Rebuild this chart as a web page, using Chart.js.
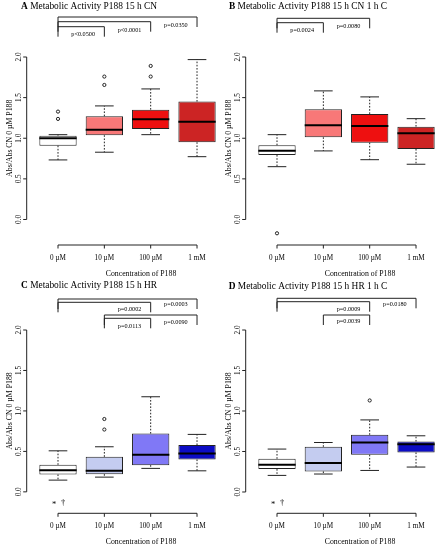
<!DOCTYPE html>
<html><head><meta charset="utf-8">
<script src="https://cdn.jsdelivr.net/npm/chart.js@4.4.0/dist/chart.umd.min.js"></script>
<style>
html,body{margin:0;padding:0;background:#fff;width:438px;height:550px;overflow:hidden;position:relative}
canvas{position:absolute}
</style></head><body>
<script>
// ---------- DATA ----------
const categories = ['0 µM','10 µM','100 µM','1 mM'];
const yTicks = [0, 0.5, 1.0, 1.5, 2.0];
const yTickLabels = ['0.0','0.5','1.0','1.5','2.0'];
const yTitle = 'Abs/Abs CN 0 µM P188';
const xTitle = 'Concentration of P188';

// Panel A: Metabolic Activity P188 15 h CN
const aQ1  = [0.909, 1.037, 1.115, 0.951];
const aQ3  = [1.032, 1.271, 1.352, 1.451];
const aMed = [1.000, 1.106, 1.234, 1.204];
const aLo  = [0.733, 0.828, 1.044, 0.773];
const aHi  = [1.044, 1.398, 1.607, 1.968];
const aOut = [[1.328, 1.238], [1.759, 1.656], [1.890, 1.759], []];
const aPairs = [[0,3],[0,2],[0,1]];
const aPLabels = ['p=0.0350','p<0.0001','p<0.0500'];

// Panel B: Metabolic Activity P188 15 h CN 1 h C
const bQ1  = [0.794, 1.012, 0.946, 0.868];
const bQ3  = [0.914, 1.357, 1.299, 1.143];
const bMed = [0.847, 1.160, 1.151, 1.062];
const bLo  = [0.650, 0.844, 0.736, 0.680];
const bHi  = [1.044, 1.583, 1.509, 1.241];
const bOut = [[-0.170], [], [], []];
const bPairs = [[0,2],[0,1]];
const bPLabels = ['p=0.0080','p=0.0024'];

// Panel C: Metabolic Activity P188 15 h HR
const cQ1  = [0.215, 0.219, 0.330, 0.400];
const cQ3  = [0.334, 0.433, 0.720, 0.578];
const cMed = [0.268, 0.260, 0.460, 0.475];
const cLo  = [0.145, 0.182, 0.290, 0.260];
const cHi  = [0.507, 0.557, 1.175, 0.710];
const cOut = [[], [0.900, 0.770], [], []];
const cPairs = [[0,3],[0,2],[1,3],[1,2]];
const cPLabels = ['p=0.0003','p=0.0002','p=0.0090','p=0.0113'];

// Panel D: Metabolic Activity P188 15 h HR 1 h C
const dQ1  = [0.283, 0.254, 0.460, 0.488];
const dQ3  = [0.410, 0.558, 0.706, 0.623];
const dMed = [0.336, 0.357, 0.611, 0.590];
const dLo  = [0.205, 0.222, 0.266, 0.308];
const dHi  = [0.530, 0.611, 0.890, 0.694];
const dOut = [[], [], [1.130], []];
const dPairs = [[0,3],[0,2],[1,2]];
const dPLabels = ['p=0.0180','p=0.0009','p=0.0039'];

const sigMarks = ['*','†'];
const sigMarkValue = -0.136;

// ---------- STYLE ----------
const redColors  = ['#ffffff','#f87878','#ee1010','#cc2424'];
const blueColors = ['#ffffff','#c4ccf0','#8078f6','#0c0cc4'];
const FONT = '"Liberation Serif", "DejaVu Serif", serif';
const INK = '#222';

const panels = [
  {letter:'A', title:'Metabolic Activity P188 15 h CN', q1:aQ1,q3:aQ3,med:aMed,lo:aLo,hi:aHi,out:aOut,pairs:aPairs,plabels:aPLabels,colors:redColors,marks:false,
   L:{left:0, top:0, h:290, yMin:-0.314, padTop:57, axisBottom:245, titleY:6.5, lineY:[17,21.7,26.7], labY:[25,30,34.3]}},
  {letter:'B', title:'Metabolic Activity P188 15 h CN 1 h C', q1:bQ1,q3:bQ3,med:bMed,lo:bLo,hi:bHi,out:bOut,pairs:bPairs,plabels:bPLabels,colors:redColors,marks:false,
   L:{left:219, top:0, h:290, yMin:-0.314, padTop:57, axisBottom:245, titleY:6.5, lineY:[18.3,22.7], labY:[26,30]}},
  {letter:'C', title:'Metabolic Activity P188 15 h HR', q1:cQ1,q3:cQ3,med:cMed,lo:cLo,hi:cHi,out:cOut,pairs:cPairs,plabels:cPLabels,colors:blueColors,marks:true,
   L:{left:0, top:272, h:278, yMin:-0.265, padTop:58, axisBottom:241.3, titleY:14, lineY:[27,30.3,43,46.3], labY:[32.3,37.3,50.3,54]}},
  {letter:'D', title:'Metabolic Activity P188 15 h HR 1 h C', q1:dQ1,q3:dQ3,med:dMed,lo:dLo,hi:dHi,out:dOut,pairs:dPairs,plabels:dPLabels,colors:blueColors,marks:true,
   L:{left:219, top:272, h:278, yMin:-0.263, padTop:58, axisBottom:241.3, titleY:14.5, lineY:[26.3,29.7,43], labY:[32.3,37.3,49.7]}}
];

const CW = 240;
const plotLeft = 34.83, plotRight = 220.2;
const yAxisX = 26.7, yTickLabX = 19, yTitleX = 10, xTitleX = 141, titleCX = 89;

const boxPlugin = {
  id: 'boxparts',
  afterDatasetsDraw(chart) {
    const P = chart.options.plugins.boxparts.panel;
    const ctx = chart.ctx, ys = chart.scales.y;
    const meta = chart.getDatasetMeta(0);
    ctx.save();
    meta.data.forEach((bar, i) => {
      const x = bar.x, w = bar.width;
      const pHi = ys.getPixelForValue(P.hi[i]), pLo = ys.getPixelForValue(P.lo[i]);
      const pQ1 = ys.getPixelForValue(P.q1[i]), pQ3 = ys.getPixelForValue(P.q3[i]);
      const pMed = ys.getPixelForValue(P.med[i]);
      ctx.strokeStyle = INK; ctx.lineWidth = 1;
      ctx.setLineDash([1.6, 1.6]);
      ctx.beginPath();
      ctx.moveTo(x, pQ3); ctx.lineTo(x, pHi);
      ctx.moveTo(x, pQ1); ctx.lineTo(x, pLo);
      ctx.stroke();
      ctx.setLineDash([]);
      ctx.beginPath();
      ctx.moveTo(x - w/4, pHi); ctx.lineTo(x + w/4, pHi);
      ctx.moveTo(x - w/4, pLo); ctx.lineTo(x + w/4, pLo);
      ctx.stroke();
      ctx.strokeStyle = '#000'; ctx.lineWidth = 2;
      ctx.beginPath();
      ctx.moveTo(x - w/2, pMed); ctx.lineTo(x + w/2, pMed);
      ctx.stroke();
    });
    ctx.restore();
  },
  afterDraw(chart) {
    const P = chart.options.plugins.boxparts.panel;
    const L = P.L;
    const ctx = chart.ctx, xs = chart.scales.x, ys = chart.scales.y, ca = chart.chartArea;
    ctx.save();
    ctx.strokeStyle = INK; ctx.fillStyle = '#000'; ctx.lineWidth = 1;
    // y axis
    const y0 = ys.getPixelForValue(yTicks[0]), y1 = ys.getPixelForValue(yTicks[yTicks.length-1]);
    ctx.beginPath();
    ctx.moveTo(yAxisX, y0); ctx.lineTo(yAxisX, y1);
    yTicks.forEach(v => { const p = ys.getPixelForValue(v); ctx.moveTo(yAxisX, p); ctx.lineTo(yAxisX - 3.5, p); });
    ctx.stroke();
    ctx.font = '7.2px ' + FONT; ctx.textAlign = 'center'; ctx.textBaseline = 'middle';
    yTicks.forEach((v, k) => {
      const p = ys.getPixelForValue(v);
      ctx.save(); ctx.translate(yTickLabX, p); ctx.rotate(-Math.PI/2); ctx.fillText(yTickLabels[k], 0, 0); ctx.restore();
    });
    ctx.font = '7.8px ' + FONT;
    ctx.save(); ctx.translate(yTitleX, ys.getPixelForValue(1.0)); ctx.rotate(-Math.PI/2); ctx.fillText(yTitle, 0, 0); ctx.restore();
    // x axis
    const xb = ca.bottom;
    const xFirst = xs.getPixelForValue(0), xLast = xs.getPixelForValue(categories.length-1);
    ctx.beginPath();
    ctx.moveTo(xFirst, xb); ctx.lineTo(xLast, xb);
    categories.forEach((c, i) => { const p = xs.getPixelForValue(i); ctx.moveTo(p, xb); ctx.lineTo(p, xb + 3.5); });
    ctx.stroke();
    ctx.font = '7.2px ' + FONT;
    categories.forEach((c, i) => ctx.fillText(c, xs.getPixelForValue(i), xb + 13));
    ctx.font = '7.8px ' + FONT;
    ctx.fillText(xTitle, xTitleX, xb + 29);
    // title
    ctx.font = 'bold 9.4px ' + FONT;
    const wL = ctx.measureText(P.letter).width;
    ctx.font = '9.4px ' + FONT;
    const rest = ' ' + P.title;
    const wR = ctx.measureText(rest).width;
    const tx = titleCX - (wL + wR)/2;
    ctx.textAlign = 'left';
    ctx.font = 'bold 9.4px ' + FONT; ctx.fillText(P.letter, tx, L.titleY);
    ctx.font = '9.4px ' + FONT; ctx.fillText(rest, tx + wL, L.titleY);
    // brackets
    ctx.textAlign = 'center';
    ctx.font = '6.2px ' + FONT;
    P.pairs.forEach((pr, k) => {
      const xa = xs.getPixelForValue(pr[0]), xbb = xs.getPixelForValue(pr[1]);
      const ly = L.lineY[k];
      ctx.beginPath();
      ctx.moveTo(xa, ly + 10); ctx.lineTo(xa, ly); ctx.lineTo(xbb, ly); ctx.lineTo(xbb, ly + 10);
      ctx.stroke();
      const lx = (xs.getPixelForValue(pr[1]-1) + xbb)/2 + 2;
      ctx.fillText(P.plabels[k], lx, L.labY[k]);
    });
    // significance marks
    if (P.marks) {
      ctx.font = '8.5px ' + FONT;
      const mx = xs.getPixelForValue(0), my = ys.getPixelForValue(sigMarkValue);
      ctx.fillText(sigMarks[0], mx - 4, my + 1.5);
      ctx.fillText(sigMarks[1], mx + 5, my);
    }
    ctx.restore();
  }
};

panels.forEach(P => {
  const L = P.L;
  const cv = document.createElement('canvas');
  cv.width = CW; cv.height = L.h;
  cv.style.left = L.left + 'px'; cv.style.top = L.top + 'px';
  cv.style.width = CW + 'px'; cv.style.height = L.h + 'px';
  document.body.appendChild(cv);
  const outliers = [];
  P.out.forEach((arr, i) => arr.forEach(v => outliers.push({x: categories[i], y: v})));
  new Chart(cv, {
    type: 'bar',
    data: {
      labels: categories,
      datasets: [
        { type:'bar', data: categories.map((c, i) => [P.q1[i], P.q3[i]]),
          backgroundColor: P.colors, borderColor: INK, borderWidth: 1, borderSkipped: false,
          barPercentage: 0.805, categoryPercentage: 1.0 },
        { type:'scatter', data: outliers, pointStyle:'circle', pointRadius: 1.6,
          pointBackgroundColor:'#fff', pointBorderColor: INK, pointBorderWidth: 1 }
      ]
    },
    options: {
      responsive: false, animation: false, events: [],
      layout: { padding: { left: plotLeft, right: CW - plotRight, top: L.padTop, bottom: L.h - L.axisBottom } },
      scales: {
        x: { type:'category', display:false, offset:true },
        y: { type:'linear', display:false, min: L.yMin, max: 2.0 }
      },
      plugins: { legend:{display:false}, tooltip:{enabled:false}, title:{display:false}, boxparts:{panel:P} }
    },
    plugins: [boxPlugin]
  });
});
</script>
</body></html>
